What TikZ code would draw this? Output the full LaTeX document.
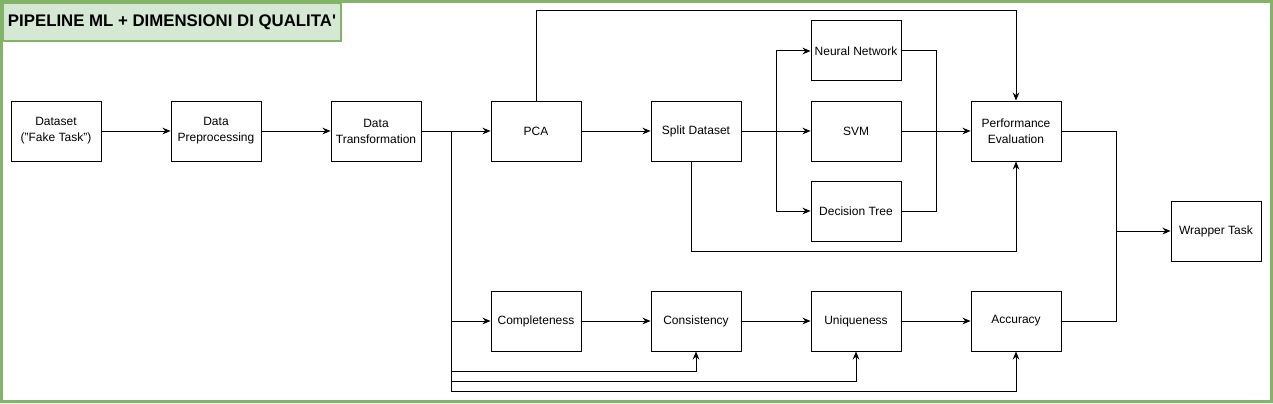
\documentclass[tikz,border=0pt]{standalone}
\usepackage{fontspec}
\setmainfont{Liberation Sans}
\usepackage{xcolor}
\usetikzlibrary{arrows.meta, positioning, calc}

\definecolor{frameGreen}{HTML}{82B366}
\definecolor{titleFill}{HTML}{D5E8D4}

\begin{document}
\begin{tikzpicture}[x=0.75pt, y=-0.75pt, line width=0.75pt,
  >={Stealth[length=6pt, width=5pt]}, font=\fontsize{9}{12}\selectfont,
  box/.style={draw, minimum width=67.5pt, minimum height=45pt,
    inner sep=1pt, align=center},
  titlebox/.style={draw=frameGreen, fill=titleFill, line width=1.5pt,
    minimum width=253.5pt, minimum height=28.5pt,
    font=\fontsize{12.6}{14}\selectfont\bfseries}]
  \useasboundingbox (0,0) rectangle (1273,403);

  %% Frame and title
  \draw[frameGreen, line width=2.25pt] (1.5,1.5) rectangle (1271.5,401.5);
  \node[titlebox] (title) at (172,22)
    {PIPELINE ML + DIMENSIONI DI QUALITA\textquotesingle};

  %% ML pipeline
  \node[box] (data) at (56,131) {Dataset\\("Fake Task")};
  \node[box] (prep) at (216,131) {Data\\Preprocessing};
  \node[box] (trans) at (376,131) {Data\\Transformation};
  \node[box] (pca) at (536,131) {PCA};
  \node[box] (split) at (696,131) {Split Dataset};
  \node[box] (nn) at (856,51) {Neural Network};
  \node[box] (svm) at (856,131) {SVM};
  \node[box] (dt) at (856,211) {Decision Tree};
  \node[box] (perf) at (1016,131) {Performance\\Evaluation};
  \node[box] (wrap) at (1216,231) {Wrapper Task};

  %% Quality dimensions
  \node[box] (compl) at (536,321) {Completeness};
  \node[box] (cons) at (696,321) {Consistency};
  \node[box] (uniq) at (856,321) {Uniqueness};
  \node[box] (acc) at (1016,321) {Accuracy};

  %% junctions
  \coordinate (jt) at (451,131);
  \coordinate (b1) at (451,371);
  \coordinate (b2) at (451,381);
  \coordinate (b3) at (451,391);
  \coordinate (tl) at (536,11);
  \coordinate (js) at (776,131);
  \coordinate (jp) at (936,131);
  \coordinate (sb) at (691,251);
  \coordinate (jw) at (1116,231);

  \draw[->] (data) -- (prep);
  \draw[->] (prep) -- (trans);
  \draw[->] (trans) -- (pca);
  \draw[->] (pca) -- (split);
  \draw[->] (pca) -- (tl) -| (perf);
  \draw[->] (split) -- (svm);
  \draw[->] (js) |- (nn);
  \draw[->] (js) |- (dt);
  \draw (nn) -| (jp);
  \draw (dt) -| (jp);
  \draw[->] (svm) -- (perf);
  \draw[->] (split.south -| sb) -- (sb) -| (perf);

  %% quality branch
  \draw[->] (jt) |- (compl);
  \draw[->] (jt) -- (b1) -| (cons);
  \draw[->] (jt) -- (b2) -| (uniq);
  \draw[->] (jt) -- (b3) -| (acc);
  \draw[->] (compl) -- (cons);
  \draw[->] (cons) -- (uniq);
  \draw[->] (uniq) -- (acc);

  %% wrapper
  \draw (perf) -| (jw);
  \draw (acc) -| (jw);
  \draw[->] (jw) -- (wrap);
\end{tikzpicture}
\end{document}
